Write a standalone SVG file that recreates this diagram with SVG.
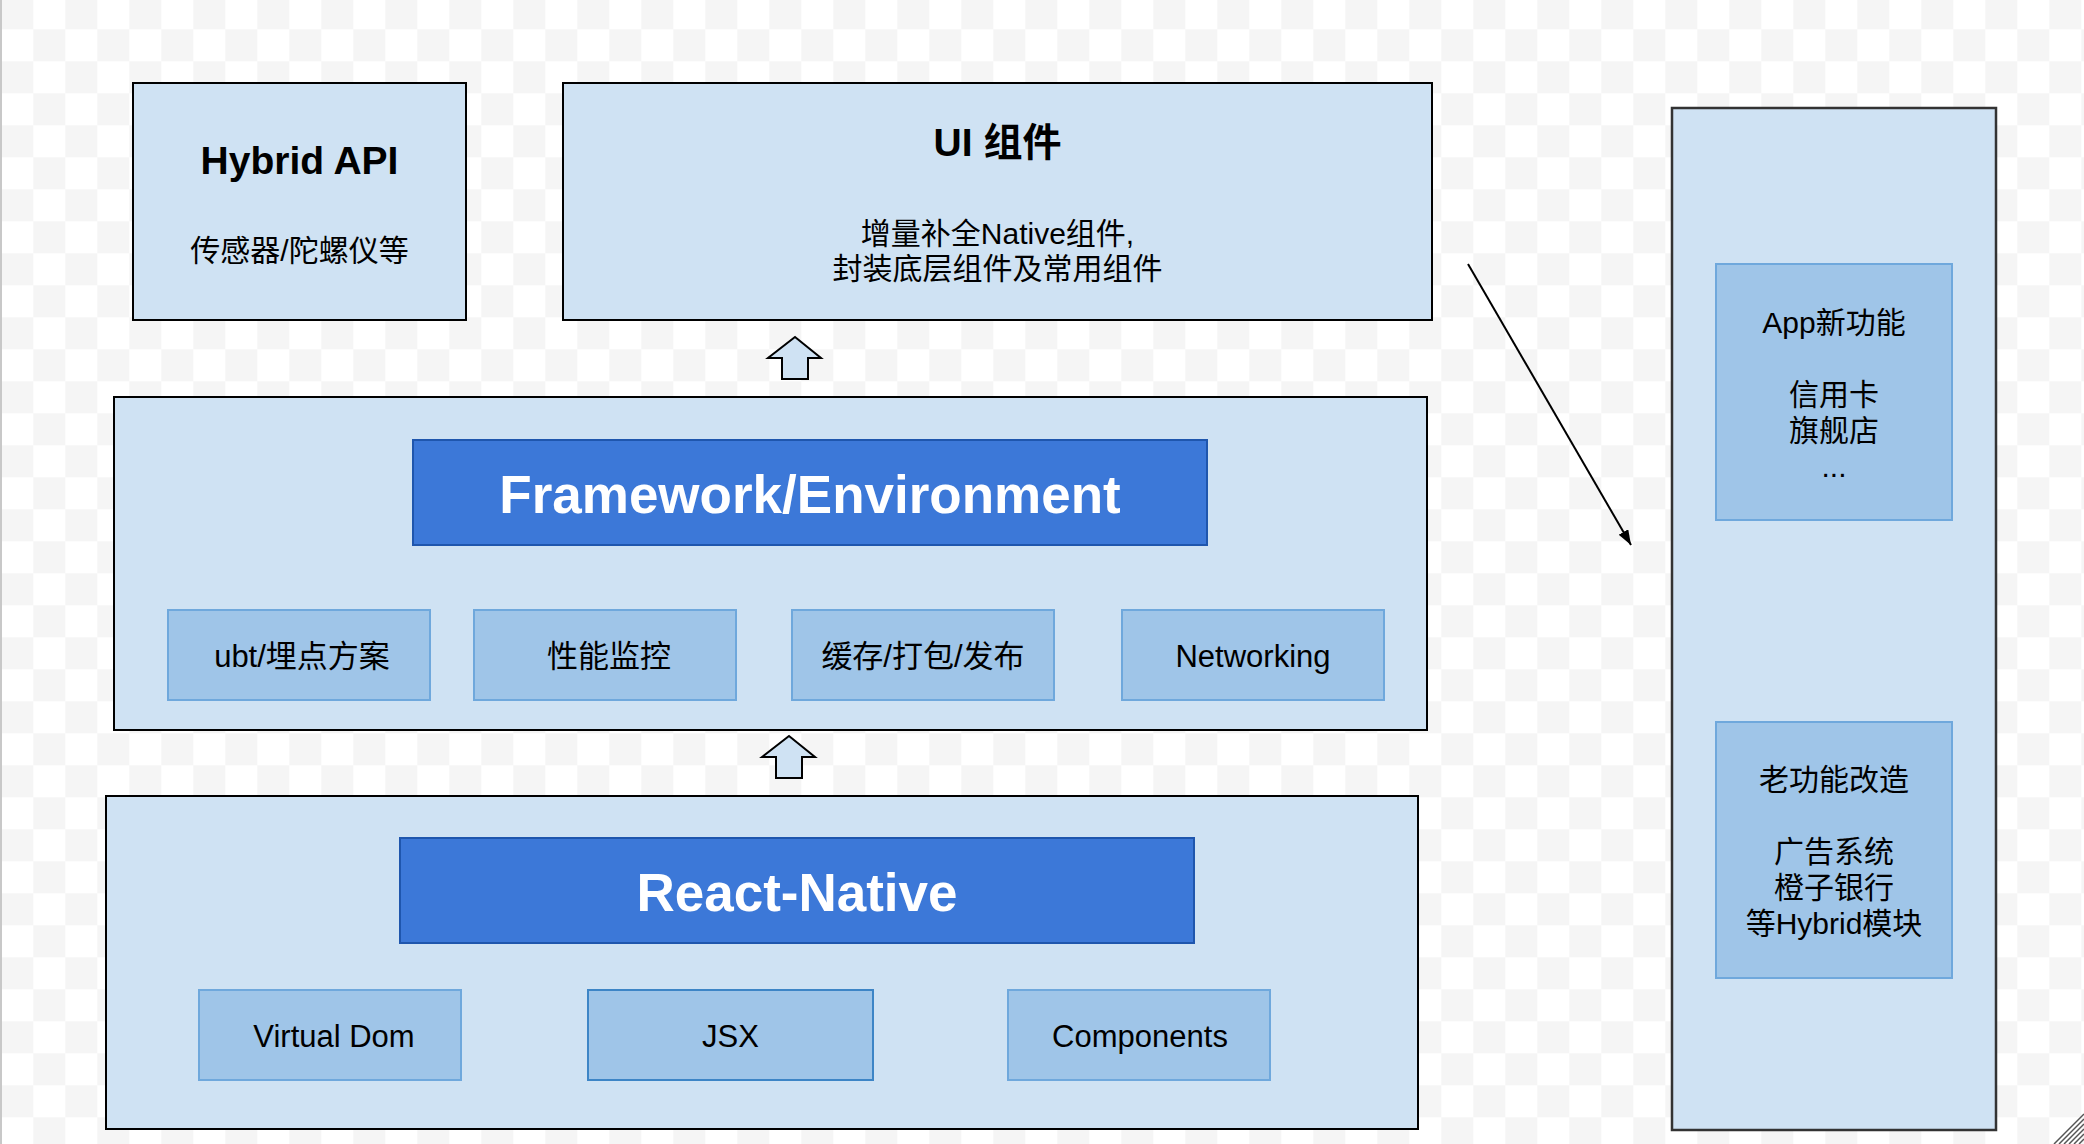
<svg xmlns="http://www.w3.org/2000/svg" width="2084" height="1144" viewBox="0 0 2084 1144">
<style>
text{font-family:"Liberation Sans","Noto Sans CJK SC",sans-serif;fill:#000;text-anchor:middle}
.outer{fill:#cfe2f3;stroke:#000;stroke-width:2}
.panel{fill:#cfe2f3;stroke:#333;stroke-width:2.5}
.bar{fill:#3c78d8;stroke:#1f56ad;stroke-width:2}
.sub{fill:#9fc5e8;stroke:#6fa8dc;stroke-width:2}
.title{font-size:39px;font-weight:bold}
.big{font-size:53px;font-weight:bold;fill:#fff}
.t30{font-size:30px}
.t31{font-size:31px}
.up{fill:#cfe2f3;stroke:#000;stroke-width:2;stroke-linejoin:miter}
</style>
<defs>
<pattern id="checker" x="1.3" y="-2.7" width="64" height="64" patternUnits="userSpaceOnUse">
<rect width="64" height="64" fill="#ffffff"/>
<rect width="32" height="32" fill="#f5f5f5"/>
<rect x="32" y="32" width="32" height="32" fill="#f5f5f5"/>
</pattern>
<marker id="arr" markerWidth="16" markerHeight="12" refX="15" refY="5.5" orient="auto" markerUnits="userSpaceOnUse">
<path d="M0,0 L15,5.5 L0,11 z" fill="#000"/>
</marker>
</defs>
<rect width="2084" height="1144" fill="url(#checker)"/>
<rect x="0" y="0" width="2" height="1144" fill="#c8c8c8"/>
<g id="grip" stroke="#555" stroke-width="1.5">
<line x1="2054" y1="1144" x2="2084" y2="1114"/>
<line x1="2059" y1="1144" x2="2084" y2="1119"/>
<line x1="2064" y1="1144" x2="2084" y2="1124"/>
<line x1="2069" y1="1144" x2="2084" y2="1129"/>
<line x1="2074" y1="1144" x2="2084" y2="1134"/>
<line x1="2079" y1="1144" x2="2084" y2="1139"/>
</g>

<g id="hybrid-api">
<rect class="outer" x="133" y="83" width="333" height="237"/>
<text class="title" x="299.5" y="174">Hybrid API</text>
<text class="t30" x="299.5" y="261">传感器/陀螺仪等</text>
</g>

<g id="ui-components">
<rect class="outer" x="563" y="83" width="869" height="237"/>
<text class="title" x="997.5" y="156">UI 组件</text>
<text class="t30" x="997.5" y="244">增量补全Native组件,</text>
<text class="t30" x="997.5" y="279">封装底层组件及常用组件</text>
</g>

<g id="framework">
<rect class="outer" x="114" y="397" width="1313" height="333"/>
<g id="framework-title">
<rect class="bar" x="413" y="440" width="794" height="105"/>
<text class="big" x="810" y="513">Framework/Environment</text>
</g>
<g id="ubt">
<rect class="sub" x="168" y="610" width="262" height="90"/>
<text class="t31" x="302" y="667">ubt/埋点方案</text>
</g>
<g id="perf">
<rect class="sub" x="474" y="610" width="262" height="90"/>
<text class="t31" x="609" y="667">性能监控</text>
</g>
<g id="cache">
<rect class="sub" x="792" y="610" width="262" height="90"/>
<text class="t31" x="923" y="667">缓存/打包/发布</text>
</g>
<g id="networking">
<rect class="sub" x="1122" y="610" width="262" height="90"/>
<text class="t31" x="1253" y="667">Networking</text>
</g>
</g>

<g id="react-native">
<rect class="outer" x="106" y="796" width="1312" height="333"/>
<g id="react-native-title">
<rect class="bar" x="400" y="838" width="794" height="105"/>
<text class="big" x="797" y="911">React-Native</text>
</g>
<g id="virtual-dom">
<rect class="sub" x="199" y="990" width="262" height="90"/>
<text class="t31" x="334" y="1047">Virtual Dom</text>
</g>
<g id="jsx">
<rect class="sub" x="588" y="990" width="285" height="90" style="stroke:#3d85c6"/>
<text class="t31" x="730.5" y="1047">JSX</text>
</g>
<g id="components">
<rect class="sub" x="1008" y="990" width="262" height="90"/>
<text class="t31" x="1140" y="1047">Components</text>
</g>
</g>

<g id="app-panel">
<rect class="panel" x="1672" y="108" width="324" height="1022"/>
<g id="new-features">
<rect class="sub" x="1716" y="264" width="236" height="256"/>
<text class="t30" x="1834" y="333">App新功能</text>
<text class="t30" x="1834" y="405">信用卡</text>
<text class="t30" x="1834" y="441">旗舰店</text>
<text class="t30" x="1834" y="477">...</text>
</g>
<g id="old-features">
<rect class="sub" x="1716" y="722" width="236" height="256"/>
<text class="t30" x="1834" y="790">老功能改造</text>
<text class="t30" x="1834" y="862">广告系统</text>
<text class="t30" x="1834" y="898">橙子银行</text>
<text class="t30" x="1834" y="934">等Hybrid模块</text>
</g>
</g>

<g id="connectors">
<polygon class="up" points="795,337 821,358 808,358 808,379 782,379 782,358 768,358"/>
<polygon class="up" points="789,736 815,757 802,757 802,778 776,778 776,757 762,757"/>
<line x1="1468" y1="264" x2="1631" y2="545" stroke="#000" stroke-width="2" marker-end="url(#arr)"/>
</g>
</svg>
